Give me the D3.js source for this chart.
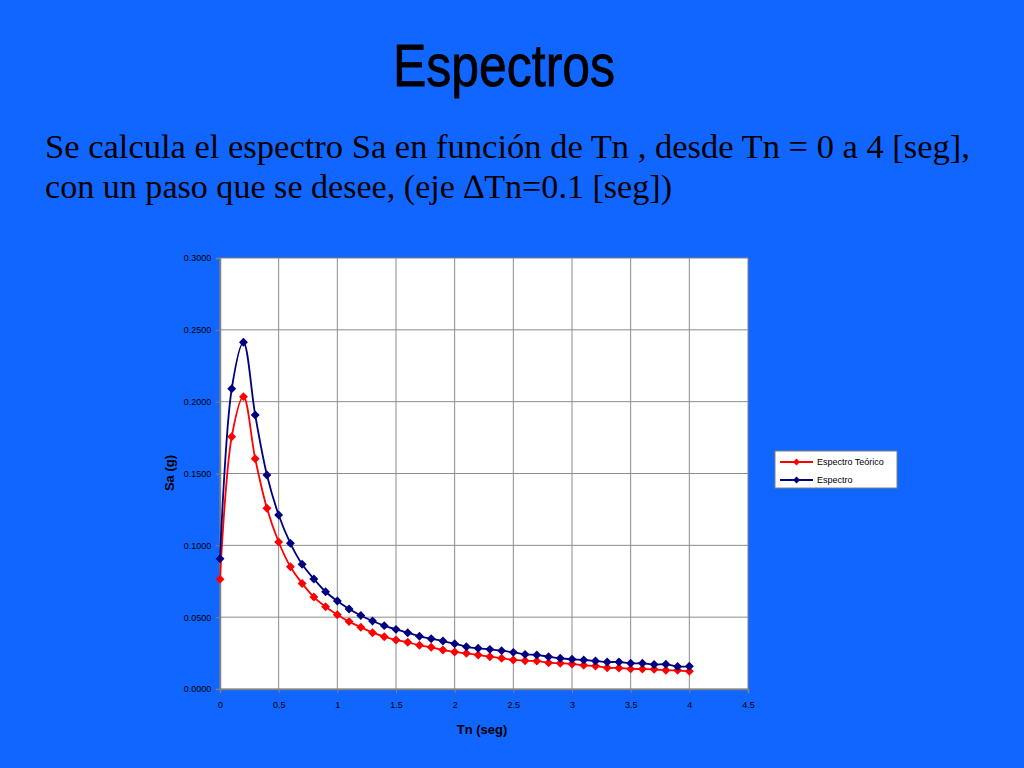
<!DOCTYPE html>
<html>
<head>
<meta charset="utf-8">
<script src="https://cdn.jsdelivr.net/npm/d3@7"></script>
<style>
  html, body { margin: 0; padding: 0; background: #1166ff; }
  svg { display: block; }
</style>
</head>
<body>
<div id="chart"></div>
<script>
// Periods (s) and spectral ordinates
const tn = [0, 0.1, 0.2, 0.3, 0.4, 0.5, 0.6, 0.7, 0.8, 0.9, 1.0,
  1.1, 1.2, 1.3, 1.4, 1.5, 1.6, 1.7, 1.8, 1.9, 2.0,
  2.1, 2.2, 2.3, 2.4, 2.5, 2.6, 2.7, 2.8, 2.9, 3.0,
  3.1, 3.2, 3.3, 3.4, 3.5, 3.6, 3.7, 3.8, 3.9, 4.0];

const saTeorico = [0.0764, 0.1756, 0.2035, 0.1603, 0.1258, 0.1023, 0.0851, 0.0735, 0.0640, 0.0573, 0.0517,
  0.0469, 0.0430, 0.0392, 0.0364, 0.0341, 0.0325, 0.0304, 0.0290, 0.0271, 0.0258,
  0.0248, 0.0237, 0.0225, 0.0214, 0.0202, 0.0197, 0.0195, 0.0183, 0.0179, 0.0174,
  0.0165, 0.0160, 0.0148, 0.0146, 0.0140, 0.0139, 0.0137, 0.0130, 0.0130, 0.0123];

const saEspectro = [0.0907, 0.2090, 0.2413, 0.1907, 0.1490, 0.1211, 0.1014, 0.0868, 0.0766, 0.0677, 0.0612,
  0.0557, 0.0512, 0.0473, 0.0441, 0.0415, 0.0392, 0.0367, 0.0350, 0.0334, 0.0315,
  0.0294, 0.0283, 0.0276, 0.0267, 0.0255, 0.0241, 0.0237, 0.0225, 0.0214, 0.0207,
  0.0202, 0.0195, 0.0188, 0.0188, 0.0179, 0.0179, 0.0170, 0.0172, 0.0157, 0.0158];

const xTicks = [0, 0.5, 1, 1.5, 2, 2.5, 3, 3.5, 4, 4.5];
const yTicks = [0, 0.05, 0.10, 0.15, 0.20, 0.25, 0.30];

const series = [
  { name: 'Espectro Teórico', values: saTeorico, color: '#ff0000' },
  { name: 'Espectro', values: saEspectro, color: '#000080' },
];

const W = 1024, H = 768;
const plot = { left: 220, top: 258, right: 748, bottom: 689 };

const svg = d3.select('#chart')
  .append('svg')
  .attr('width', W)
  .attr('height', H);

svg.append('rect')
  .attr('width', W)
  .attr('height', H)
  .attr('fill', '#1166ff');

// Slide title and text (narrow fonts are not installed, so squeeze to the original width)
svg.append('text')
  .attr('x', 393)
  .attr('y', 86)
  .attr('textLength', 222)
  .attr('lengthAdjust', 'spacingAndGlyphs')
  .style('font-family', '"Liberation Sans", Arial, sans-serif')
  .style('font-size', '59px')
  .attr('fill', '#000')
  .attr('stroke', '#000')
  .attr('stroke-width', 0.8)
  .text('Espectros');

const body = svg.append('g')
  .style('font-family', '"Liberation Serif", "Times New Roman", serif')
  .style('font-size', '34px')
  .attr('fill', '#000');

body.append('text')
  .attr('x', 45)
  .attr('y', 158)
  .attr('textLength', 925)
  .attr('lengthAdjust', 'spacingAndGlyphs')
  .text('Se calcula el espectro Sa en función de Tn , desde Tn = 0 a 4 [seg],');

body.append('text')
  .attr('x', 45)
  .attr('y', 198)
  .attr('textLength', 627)
  .attr('lengthAdjust', 'spacingAndGlyphs')
  .text('con un paso que se desee, (eje \u2206Tn=0.1 [seg])');

// Scales
const x = d3.scaleLinear().domain([0, 4.5]).range([plot.left, plot.right]);
const y = d3.scaleLinear().domain([0, 0.3]).range([plot.bottom, plot.top]);

// Plot area
svg.append('rect')
  .attr('x', plot.left)
  .attr('y', plot.top)
  .attr('width', plot.right - plot.left)
  .attr('height', plot.bottom - plot.top)
  .attr('fill', '#fff')
  .attr('stroke', '#808080')
  .attr('stroke-width', 1);

// Gridlines
svg.append('g')
  .selectAll('line')
  .data(xTicks.slice(1, -1))
  .join('line')
  .attr('x1', d => x(d)).attr('x2', d => x(d))
  .attr('y1', plot.top).attr('y2', plot.bottom)
  .attr('stroke', '#8c8c8c')
  .attr('stroke-width', 1);

svg.append('g')
  .selectAll('line')
  .data(yTicks.slice(1, -1))
  .join('line')
  .attr('x1', plot.left).attr('x2', plot.right)
  .attr('y1', d => y(d)).attr('y2', d => y(d))
  .attr('stroke', '#8c8c8c')
  .attr('stroke-width', 1);

// Axes
const xAxis = d3.axisBottom(x).tickValues(xTicks).tickSize(4).tickFormat(d3.format(''));
const yAxis = d3.axisLeft(y).tickValues(yTicks).tickSize(4).tickFormat(d3.format('.4f'));

const gx = svg.append('g')
  .attr('transform', `translate(0, ${plot.bottom})`)
  .call(xAxis);

const gy = svg.append('g')
  .attr('transform', `translate(${plot.left}, 0)`)
  .call(yAxis);

[gx, gy].forEach((g) => {
  g.select('.domain').attr('stroke', '#808080').attr('stroke-width', 1.5);
  g.selectAll('.tick line').attr('stroke', '#808080');
  g.selectAll('.tick text')
    .attr('fill', '#000')
    .style('font-family', '"Liberation Sans", Arial, sans-serif')
    .style('font-size', '9px');
});
gx.selectAll('.tick text').attr('dy', '1.3em');
gy.selectAll('.tick text').attr('dx', '-0.2em');

// Axis titles
svg.append('text')
  .attr('x', 482)
  .attr('y', 734)
  .attr('text-anchor', 'middle')
  .style('font-family', '"Liberation Sans", Arial, sans-serif')
  .style('font-size', '13px')
  .style('font-weight', 'bold')
  .text('Tn (seg)');

svg.append('text')
  .attr('transform', 'translate(174, 473) rotate(-90)')
  .attr('text-anchor', 'middle')
  .style('font-family', '"Liberation Sans", Arial, sans-serif')
  .style('font-size', '13px')
  .style('font-weight', 'bold')
  .text('Sa (g)');

// Series
const line = d3.line()
  .x((d, i) => x(tn[i]))
  .y(d => y(d))
  .curve(d3.curveCatmullRom.alpha(0.5));

// Excel-style diamond: a square turned 45 degrees
const diamond = d3.symbol().type(d3.symbolSquare).size(40);

series.forEach((s) => {
  svg.append('path')
    .attr('d', line(s.values))
    .attr('fill', 'none')
    .attr('stroke', s.color)
    .attr('stroke-width', 1.8);

  svg.append('g')
    .selectAll('path')
    .data(s.values)
    .join('path')
    .attr('d', diamond)
    .attr('transform', (d, i) => `translate(${x(tn[i])}, ${y(d)}) rotate(45)`)
    .attr('fill', s.color);
});

// Legend
const legend = svg.append('g').attr('transform', 'translate(775, 451)');

legend.append('rect')
  .attr('width', 122)
  .attr('height', 37)
  .attr('fill', '#fff')
  .attr('stroke', '#808080');

series.forEach((s, i) => {
  const ly = 11 + i * 18;
  legend.append('line')
    .attr('x1', 5).attr('x2', 38)
    .attr('y1', ly).attr('y2', ly)
    .attr('stroke', s.color)
    .attr('stroke-width', 1.8);
  legend.append('path')
    .attr('d', d3.symbol().type(d3.symbolSquare).size(24))
    .attr('transform', `translate(21.5, ${ly}) rotate(45)`)
    .attr('fill', s.color);
  legend.append('text')
    .attr('x', 42)
    .attr('y', ly)
    .attr('dy', '0.35em')
    .style('font-family', '"Liberation Sans", Arial, sans-serif')
    .style('font-size', '9px')
    .text(s.name);
});
</script>
</body>
</html>
